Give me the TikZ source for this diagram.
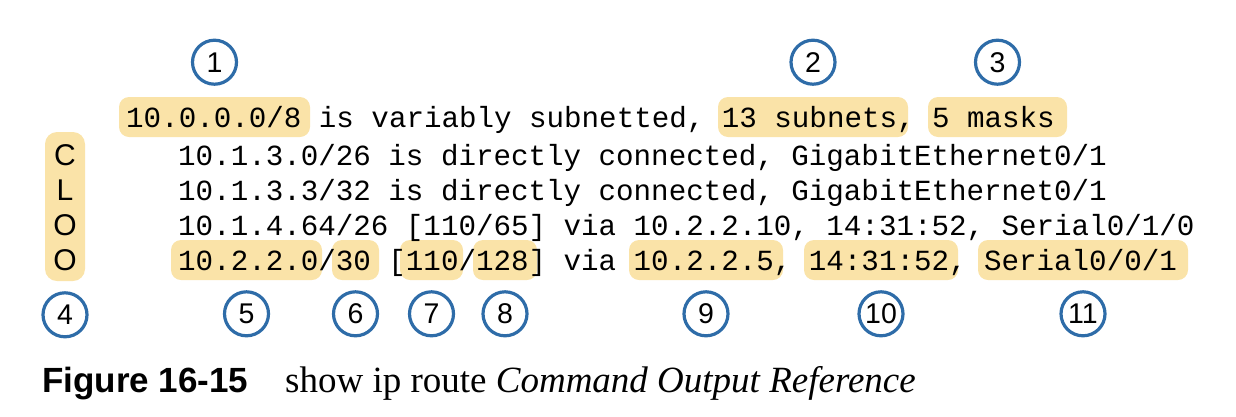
\documentclass[tikz,border=0pt]{standalone}
\usepackage{fontspec}
\setmainfont{Liberation Serif}
\setsansfont{Liberation Sans}
\setmonofont{Liberation Mono}
\usetikzlibrary{positioning}

\definecolor{hlyellow}{RGB}{250,227,168}
\definecolor{calloutblue}{RGB}{46,108,168}

\begin{document}
\begin{tikzpicture}[x=1pt,y=-1pt,
hilite/.style={fill=hlyellow, rounded corners=10pt, inner sep=0pt, minimum height=40pt},
callout/.style={circle, draw=calloutblue, line width=3.2pt, minimum size=44pt, inner sep=0pt, font=\sffamily\fontsize{28.5}{28.5}\selectfont},
cli/.style={anchor=base west, inner sep=0pt, font=\ttfamily\fontsize{29.2}{35}\selectfont},
code/.style={anchor=base, inner sep=0pt, font=\sffamily\fontsize{30}{30}\selectfont},
node distance=11pt]
\useasboundingbox (0,0) rectangle (1236,416);

% highlighted fields
\node[hilite, minimum width=191pt] (b1) at (214.5,117) {};
\node[hilite, minimum width=190pt] (b2) at (813,117) {};
\node[hilite, minimum width=139pt] (b3) at (997.5,117) {};
\node[hilite, minimum width=40pt, minimum height=149pt, rounded corners=12pt] (b4) at (65,206.5) {};
\node[hilite, minimum width=151pt] (b5) at (246.5,260) {};
\node[hilite, minimum width=47pt] (b6) at (355.5,260) {};
\node[hilite, minimum width=63pt] (b7) at (431.5,260) {};
\node[hilite, minimum width=64pt] (b8) at (505,260) {};
\node[hilite, minimum width=154pt] (b9) at (706,260) {};
\node[hilite, minimum width=154pt] (b10) at (881,260) {};
\node[hilite, minimum width=210pt] (b11) at (1083,260) {};

% route codes
\node[code] (cC) at (65,165) {C};
\node[code] (cL) at (65,200) {L};
\node[code] (cO1) at (65,235) {O};
\node[code] (cO2) at (65,270) {O};

% show ip route lines
\node[cli] (l0) at (126,127) {10.0.0.0/8 is variably subnetted, 13 subnets, 5 masks};
\node[cli] (l1) at (178,165) {10.1.3.0/26 is directly connected, GigabitEthernet0/1};
\node[cli] (l2) at (178,200) {10.1.3.3/32 is directly connected, GigabitEthernet0/1};
\node[cli] (l3) at (178,235) {10.1.4.64/26 [110/65] via 10.2.2.10, 14:31:52, Serial0/1/0};
\node[cli] (l4) at (178,270) {10.2.2.0/30 [110/128] via 10.2.2.5, 14:31:52, Serial0/0/1};

% numbered callouts
\node[callout, above=of b1] (c1) {1};
\node[callout, above=of b2] (c2) {2};
\node[callout, above=of b3] (c3) {3};
\node[callout, below=10pt of b4] (c4) {4};
\node[callout, below=10pt of b5] (c5) {5};
\node[callout, below=10pt of b6] (c6) {6};
\node[callout, below=10pt of b7] (c7) {7};
\node[callout, below=10pt of b8] (c8) {8};
\node[callout, below=10pt of b9] (c9) {9};
\node[callout, below=10pt of b10] (c10) {10};
\node[callout, below=10pt of b11] (c11) {11};

% caption
\node[anchor=base west, inner sep=0pt, font=\sffamily\bfseries\fontsize{35}{35}\selectfont] (fig) at (42,392) {Figure 16-15};
\node[anchor=base west, inner sep=0pt, font=\fontsize{37}{37}\selectfont] (cap) at (285,392) {show ip route \textit{Command Output Reference}};
\end{tikzpicture}
\end{document}
